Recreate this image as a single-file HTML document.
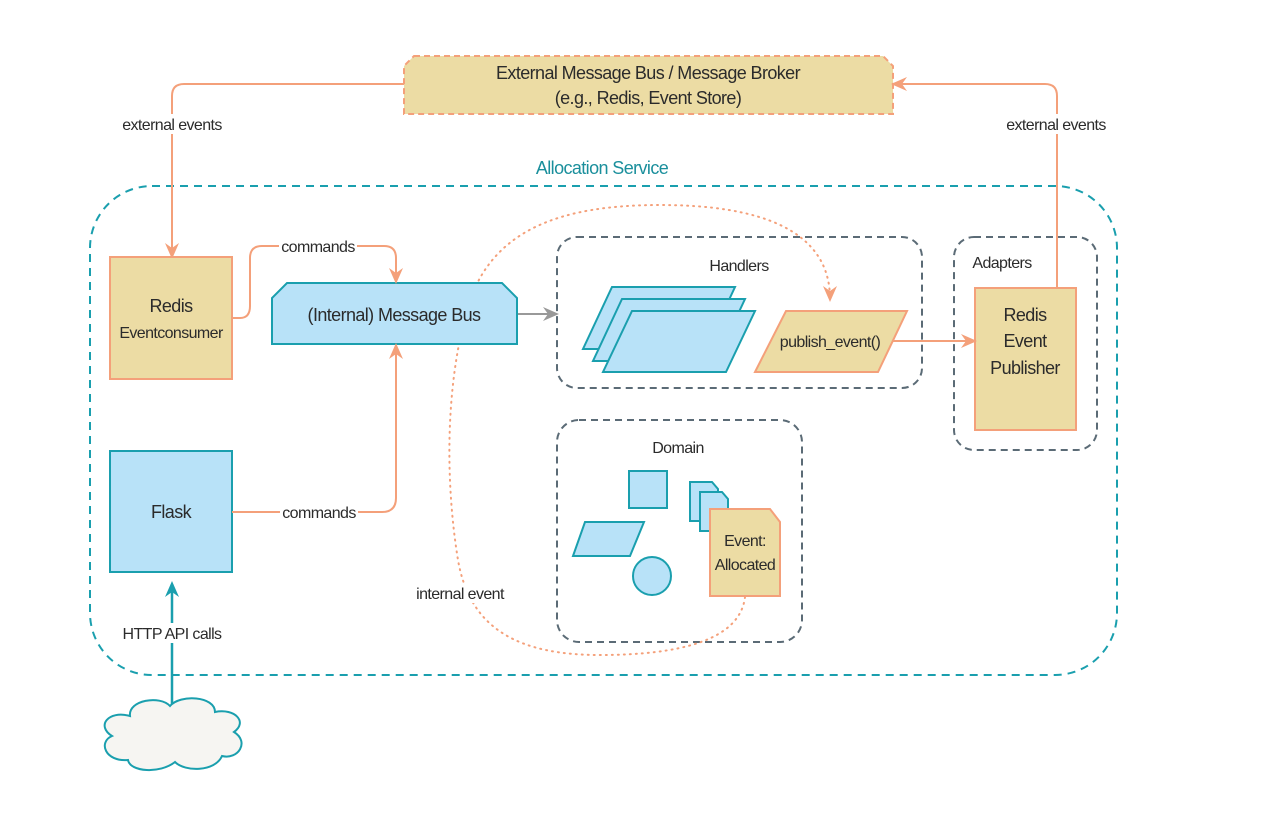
<!DOCTYPE html>
<html><head><meta charset="utf-8"><style>
html,body{margin:0;padding:0;background:#fff}
svg{display:block}
text{font-family:"Liberation Sans",sans-serif;fill:#2b2b2b;font-size:16px;letter-spacing:-0.6px}
</style></head><body>
<svg width="1268" height="818" viewBox="0 0 1268 818" xmlns="http://www.w3.org/2000/svg">
<defs>
<marker id="ao" markerWidth="16" markerHeight="16" refX="13" refY="8" orient="auto" markerUnits="userSpaceOnUse"><path d="M0,1 L16,8 L0,15 L5,8 Z" fill="#f4a07a"/></marker>
<marker id="ag" markerWidth="16" markerHeight="16" refX="13" refY="8" orient="auto" markerUnits="userSpaceOnUse"><path d="M0,1 L16,8 L0,15 L5,8 Z" fill="#999"/></marker>
<marker id="at" markerWidth="16" markerHeight="16" refX="13" refY="8" orient="auto" markerUnits="userSpaceOnUse"><path d="M0,1 L16,8 L0,15 L5,8 Z" fill="#1a9fae"/></marker>
</defs>

<rect x="90" y="186" width="1027" height="489" rx="62" fill="none" stroke="#1a9fae" stroke-width="2" stroke-dasharray="8,6"/>
<text x="602" y="174" text-anchor="middle" style="fill:#1a8f9c;font-size:18px">Allocation Service</text>

<path d="M414,56 L883,56 L893,66 L893,114 L404,114 L404,66 Z" fill="#ecdca4" stroke="#f4a07a" stroke-width="2" stroke-dasharray="6,4"/>
<text x="648" y="79" text-anchor="middle" style="font-size:18px">External Message Bus / Message Broker</text>
<text x="648" y="104" text-anchor="middle" style="font-size:18px">(e.g., Redis, Event Store)</text>

<path d="M404,84 L184,84 Q172,84 172,96 L172,256" fill="none" stroke="#f4a07a" stroke-width="2" marker-end="url(#ao)"/>
<rect x="115" y="114" width="115" height="20" fill="#fff"/>
<text x="172" y="130" text-anchor="middle">external events</text>
<path d="M1057,288 L1057,96 Q1057,84 1045,84 L894,84" fill="none" stroke="#f4a07a" stroke-width="2" marker-end="url(#ao)"/>
<rect x="1000" y="114" width="114" height="20" fill="#fff"/>
<text x="1056" y="130" text-anchor="middle">external events</text>

<rect x="557" y="237" width="365" height="151" rx="20" fill="none" stroke="#5b6b76" stroke-width="2" stroke-dasharray="7,5"/>
<text x="739" y="271" text-anchor="middle">Handlers</text>
<path d="M612,287 L735,287 L706,349 L583,349 Z" fill="#b8e2f8" stroke="#1a9fae" stroke-width="2"/>
<path d="M622,299 L745,299 L716,361 L593,361 Z" fill="#b8e2f8" stroke="#1a9fae" stroke-width="2"/>
<path d="M632,311 L755,311 L726,372 L603,372 Z" fill="#b8e2f8" stroke="#1a9fae" stroke-width="2"/>
<path d="M786,311 L907,311 L878,372 L755,372 Z" fill="#ecdca4" stroke="#f4a07a" stroke-width="2"/>
<text x="830" y="347" text-anchor="middle">publish_event()</text>

<rect x="954" y="237" width="143" height="213" rx="20" fill="none" stroke="#5b6b76" stroke-width="2" stroke-dasharray="7,5"/>
<text x="1002" y="268" text-anchor="middle">Adapters</text>
<rect x="975" y="288" width="101" height="142" fill="#ecdca4" stroke="#f4a07a" stroke-width="2"/>
<text x="1025" y="321" text-anchor="middle" style="font-size:18px">Redis</text>
<text x="1025" y="347" text-anchor="middle" style="font-size:18px">Event</text>
<text x="1025" y="374" text-anchor="middle" style="font-size:18px">Publisher</text>
<path d="M893,341 L974,341" fill="none" stroke="#f4a07a" stroke-width="2" marker-end="url(#ao)"/>

<rect x="557" y="420" width="245" height="222" rx="22" fill="none" stroke="#5b6b76" stroke-width="2" stroke-dasharray="7,5"/>
<text x="678" y="453" text-anchor="middle">Domain</text>
<rect x="629" y="471" width="38" height="37" fill="#b8e2f8" stroke="#1a9fae" stroke-width="2"/>
<path d="M585,522 L644,522 L630,556 L573,556 Z" fill="#b8e2f8" stroke="#1a9fae" stroke-width="2"/>
<circle cx="652" cy="576" r="19" fill="#b8e2f8" stroke="#1a9fae" stroke-width="2"/>
<path d="M690,482 L712,482 L718,489 L718,521 L690,521 Z" fill="#b8e2f8" stroke="#1a9fae" stroke-width="2"/>
<path d="M700,492 L722,492 L728,499 L728,531 L700,531 Z" fill="#b8e2f8" stroke="#1a9fae" stroke-width="2"/>
<path d="M710,509 L770,509 L780,522 L780,596 L710,596 Z" fill="#ecdca4" stroke="#f4a07a" stroke-width="2"/>
<text x="745" y="546" text-anchor="middle">Event:</text>
<text x="745" y="570" text-anchor="middle">Allocated</text>

<path d="M745,597 C740,640 680,655 600,655 C520,655 470,630 458,560 C445,480 445,380 470,300 C495,230 560,205 660,205 C760,205 830,230 830,299" fill="none" stroke="#f4a07a" stroke-width="2" stroke-dasharray="1,5" stroke-linecap="round" marker-end="url(#ao)"/>
<rect x="410" y="583" width="100" height="20" fill="#fff"/>
<text x="460" y="599" text-anchor="middle">internal event</text>

<rect x="110" y="257" width="122" height="122" fill="#ecdca4" stroke="#f4a07a" stroke-width="2"/>
<text x="171" y="312" text-anchor="middle" style="font-size:18px">Redis</text>
<text x="171" y="338" text-anchor="middle">Eventconsumer</text>

<path d="M287,283 L502,283 L517,298 L517,344 L272,344 L272,298 Z" fill="#b8e2f8" stroke="#1a9fae" stroke-width="2"/>
<text x="394" y="321" text-anchor="middle" style="font-size:18px">(Internal) Message Bus</text>
<path d="M518,314 L556,314" fill="none" stroke="#999" stroke-width="2" marker-end="url(#ag)"/>

<path d="M232,318 L240,318 Q250,318 250,306 L250,258 Q250,246 262,246 L384,246 Q396,246 396,258 L396,281" fill="none" stroke="#f4a07a" stroke-width="2" marker-end="url(#ao)"/>
<rect x="279" y="236" width="78" height="20" fill="#fff"/>
<text x="318" y="252" text-anchor="middle">commands</text>

<rect x="110" y="451" width="122" height="121" fill="#b8e2f8" stroke="#1a9fae" stroke-width="2"/>
<text x="171" y="518" text-anchor="middle" style="font-size:18px">Flask</text>
<path d="M232,512 L382,512 Q396,512 396,498 L396,346" fill="none" stroke="#f4a07a" stroke-width="2" marker-end="url(#ao)"/>
<rect x="280" y="502" width="78" height="20" fill="#fff"/>
<text x="319" y="518" text-anchor="middle">commands</text>

<path d="M172,705 L172,584" fill="none" stroke="#1a9fae" stroke-width="2.5" marker-end="url(#at)"/>
<rect x="120" y="623" width="105" height="20" fill="#fff"/>
<text x="172" y="639" text-anchor="middle">HTTP API calls</text>

<path d="M130,716 C128,700 160,695 170,706 C180,694 215,696 215,712 C235,708 248,722 234,732 C250,742 238,760 222,756 C215,772 185,772 175,762 C160,774 130,772 128,760 C105,762 98,742 112,736 C96,726 108,710 130,716 Z" fill="#f6f5f2" stroke="#1a9fae" stroke-width="2"/>
</svg>
</body></html>
